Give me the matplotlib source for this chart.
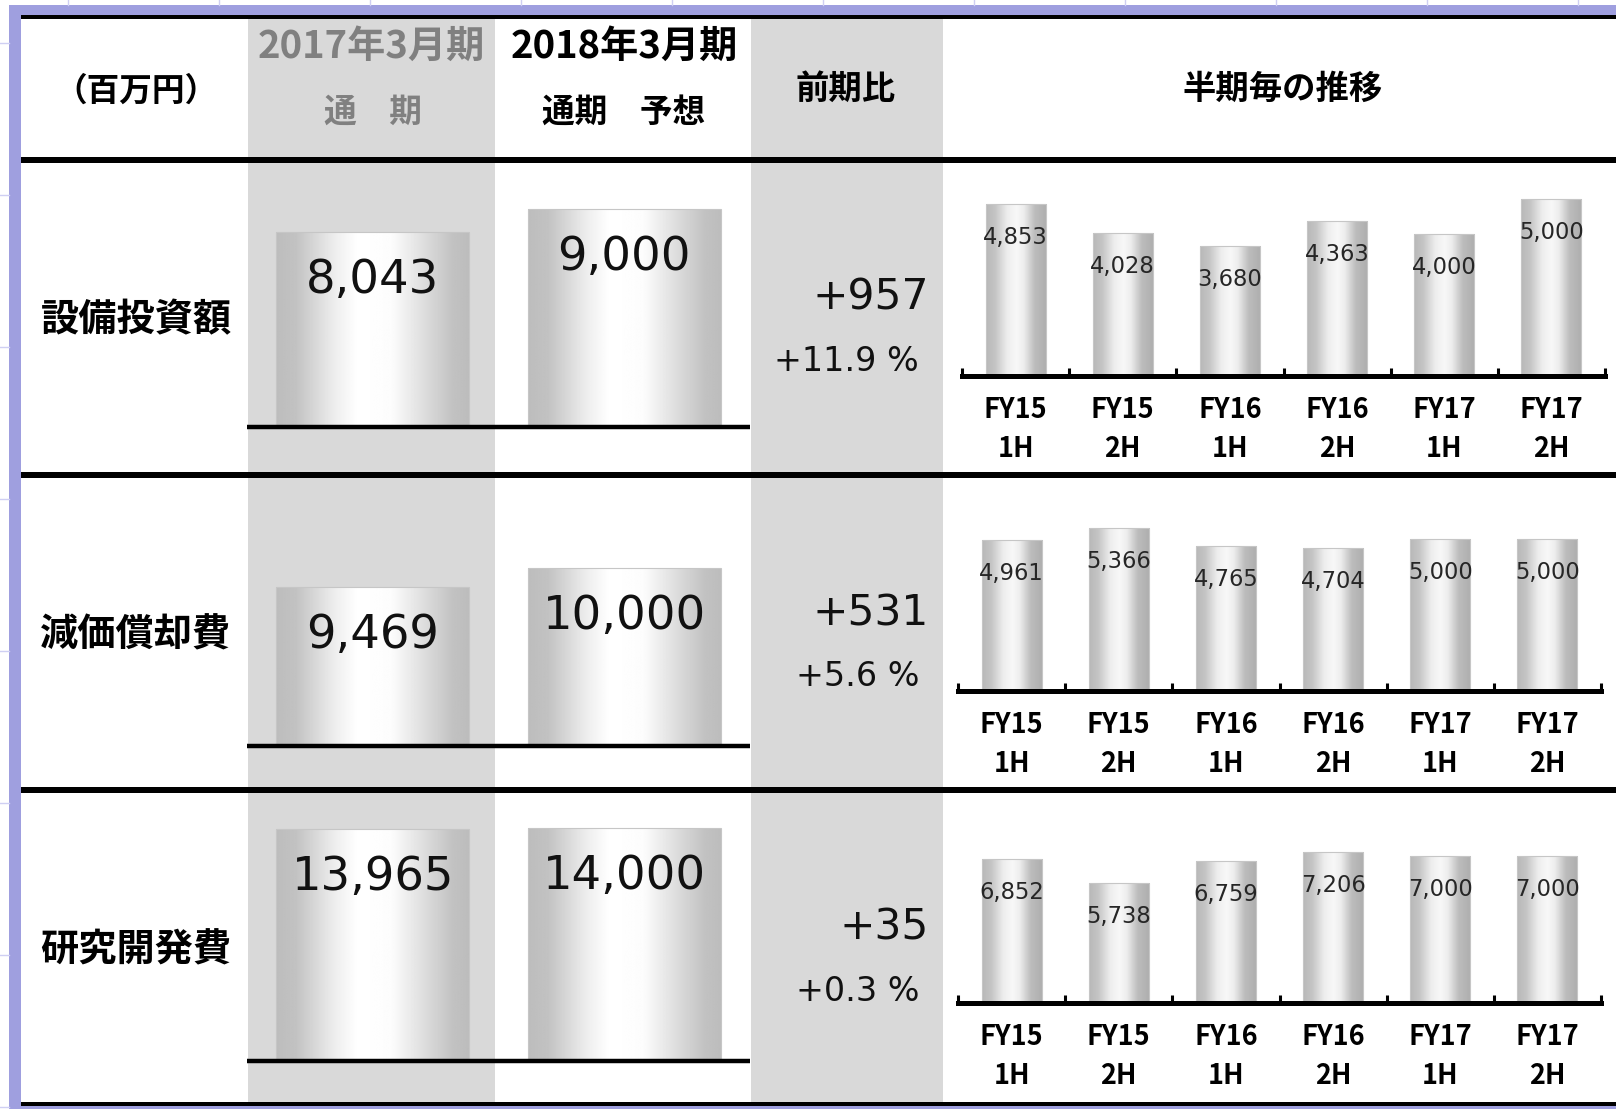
import numpy as np
import matplotlib
matplotlib.use('Agg')
import matplotlib.pyplot as plt
from matplotlib.patches import Rectangle

plt.rcParams['font.family'] = ['Noto Sans CJK JP', 'DejaVu Sans']

# ---- data ----
items = ['設備投資額', '減価償却費', '研究開発費']
fy2017 = [8043, 9469, 13965]
fy2018_plan = [9000, 10000, 14000]
diff = [957, 531, 35]
diff_pct = [11.9, 5.6, 0.3]
periods = ['FY15\n1H', 'FY15\n2H', 'FY16\n1H', 'FY16\n2H', 'FY17\n1H', 'FY17\n2H']
capex_half = [4853, 4028, 3680, 4363, 4000, 5000]
depr_half = [4961, 5366, 4765, 4704, 5000, 5000]
rnd_half = [6852, 5738, 6759, 7206, 7000, 7000]
half_values = [capex_half, depr_half, rnd_half]

# ---- layout (pixels) ----
W, H = 1616, 1109
PURPLE = '#9f9fdf'
GRAY = '#d9d9d9'
row_top = [160, 475, 790]
big_base = [427, 745.5, 1060.5]
big_ylim = [(0, 11020), (5000, 12620), (0, 16290)]
small_x = [(962, 1605), (958, 1601), (958, 1601)]
small_base = [375.5, 690.5, 1002.5]
small_top = [165, 480, 795]
small_ymax = [5963, 6951, 9934]

big_stops = ([0, 0.1, 0.3, 0.42, 0.6, 0.78, 0.92, 1.0],
             [0.74, 0.76, 0.93, 1.0, 0.99, 0.86, 0.76, 0.74])
small_stops = ([0, 0.15, 0.35, 0.5, 0.62, 0.8, 1.0],
               [0.72, 0.77, 0.93, 0.97, 0.93, 0.74, 0.68])

fig = plt.figure(figsize=(W / 100, H / 100), dpi=100)


def px_axes(x0, y0, x1, y1):
    return fig.add_axes([x0 / W, 1 - y1 / H, (x1 - x0) / W, (y1 - y0) / H])


def grad_bars(ax, vals, width, stops, base=0):
    xs = np.arange(len(vals))
    bars = ax.bar(xs, np.array(vals) - base, width=width, bottom=base, facecolor='none',
                  edgecolor='#c6c6c6', linewidth=0.8, zorder=2.2)
    g = np.interp(np.linspace(0, 1, 256), stops[0], stops[1])[np.newaxis, :]
    for x, v, b in zip(xs, vals, bars):
        im = ax.imshow(g, cmap='gray', vmin=0, vmax=1, aspect='auto',
                       extent=(x - width / 2, x + width / 2, base, v),
                       interpolation='bilinear', zorder=2)
        im.set_clip_path(b)
    return bars


# background frame, shaded columns and rules
bg = fig.add_axes([0, 0, 1, 1])
bg.set_xlim(0, W)
bg.set_ylim(H, 0)
bg.axis('off')
for gx in np.arange(68, W, 151):
    bg.plot([gx, gx], [0, 5], color='#cfcff3', lw=1)
for gy in np.arange(43, H, 152):
    bg.plot([0, 9], [gy, gy], color='#cfcff3', lw=1)
bg.add_patch(Rectangle((9, 5), W - 9, 10, color=PURPLE, lw=0))
bg.add_patch(Rectangle((9, 5), 12, H - 5, color=PURPLE, lw=0))
bg.add_patch(Rectangle((9, 1106), W - 9, 3, color=PURPLE, lw=0))
bg.add_patch(Rectangle((248, 19), 247, 1083, color=GRAY, lw=0))
bg.add_patch(Rectangle((751, 19), 192, 1083, color=GRAY, lw=0))
for y0, y1 in [(15, 19), (157, 163), (472, 478), (787, 793), (1102, 1106)]:
    bg.add_patch(Rectangle((21, y0), W - 21, y1 - y0, color='black', lw=0))

# header
bg.text(136, 91, '（百万円）', ha='center', va='center', fontsize=23.5, fontweight='bold')
bg.text(371, 46, '2017年3月期', ha='center', va='center', fontsize=27.5,
        fontweight='bold', color='#808080')
bg.text(373, 112, '通　期', ha='center', va='center', fontsize=23.5,
        fontweight='bold', color='#808080')
bg.text(624, 46, '2018年3月期', ha='center', va='center', fontsize=27.5, fontweight='bold')
bg.text(624, 112, '通期　予想', ha='center', va='center', fontsize=23.5, fontweight='bold')
bg.text(846, 89, '前期比', ha='center', va='center', fontsize=24, fontweight='bold')
bg.text(1283, 89, '半期毎の推移', ha='center', va='center', fontsize=24, fontweight='bold')

for i in range(3):
    # row label
    bg.text(136, row_top[i] + 160, items[i], ha='center',
            va='center', fontsize=27.5, fontweight='bold')
    # change vs previous year
    bg.text(929, row_top[i] + 150, f'+{diff[i]:,}', ha='right', va='baseline',
            fontsize=30.5, family='DejaVu Sans', color='#111111')
    bg.text(919, row_top[i] + 211, f'+{diff_pct[i]:.1f} %', ha='right', va='baseline',
            fontsize=24, family='DejaVu Sans', color='#111111')

    # full-year bars
    ymin, ymax = big_ylim[i]
    ax = px_axes(247, row_top[i], 750, big_base[i])
    ax.set_facecolor('none')
    vals = [fy2017[i], fy2018_plan[i]]
    grad_bars(ax, vals, 0.767, big_stops, base=ymin)
    ax.set_xlim(-0.5, 1.5)
    ax.set_ylim(ymin, ymax)
    for s in ['top', 'left', 'right']:
        ax.spines[s].set_visible(False)
    ax.spines['bottom'].set_linewidth(3.2)
    ax.spines['bottom'].set_zorder(3)
    ax.spines['bottom'].set_capstyle('butt')
    ax.set_xticks([])
    ax.set_yticks([])
    for x, v in enumerate(vals):
        ax.annotate(f'{v:,}', (x, v), xytext=(0, -43.9), textcoords='offset points',
                    ha='center', va='baseline', fontsize=33.5, family='DejaVu Sans',
                    color='#111111', zorder=4)

    # half-year bars
    x0, x1 = small_x[i]
    sx = px_axes(x0, small_top[i], x1, small_base[i])
    sx.set_facecolor('none')
    hv = half_values[i]
    grad_bars(sx, hv, 0.56, small_stops)
    sx.set_xlim(-0.5, 5.5)
    sx.set_ylim(0, small_ymax[i])
    for s in ['top', 'left', 'right']:
        sx.spines[s].set_visible(False)
    sx.spines['bottom'].set_linewidth(3.6)
    sx.spines['bottom'].set_zorder(3)
    sx.set_yticks([])
    sx.set_xticks(range(len(periods)))
    sx.set_xticklabels(periods, fontsize=19.5, fontweight='bold', linespacing=1.5)
    sx.set_xticks(np.arange(-0.5, len(periods), 1), minor=True)
    sx.tick_params(axis='x', which='major', length=0, pad=15)
    sx.tick_params(axis='x', which='minor', direction='in', length=5.5, width=2.2)
    for x, v in enumerate(hv):
        sx.annotate(f'{v:,}', (x, v), xytext=(0, -28.8), textcoords='offset points',
                    ha='center', va='baseline', fontsize=16.3, family='DejaVu Sans',
                    color='#262626', zorder=4)

fig.savefig('out.png', dpi=100)
